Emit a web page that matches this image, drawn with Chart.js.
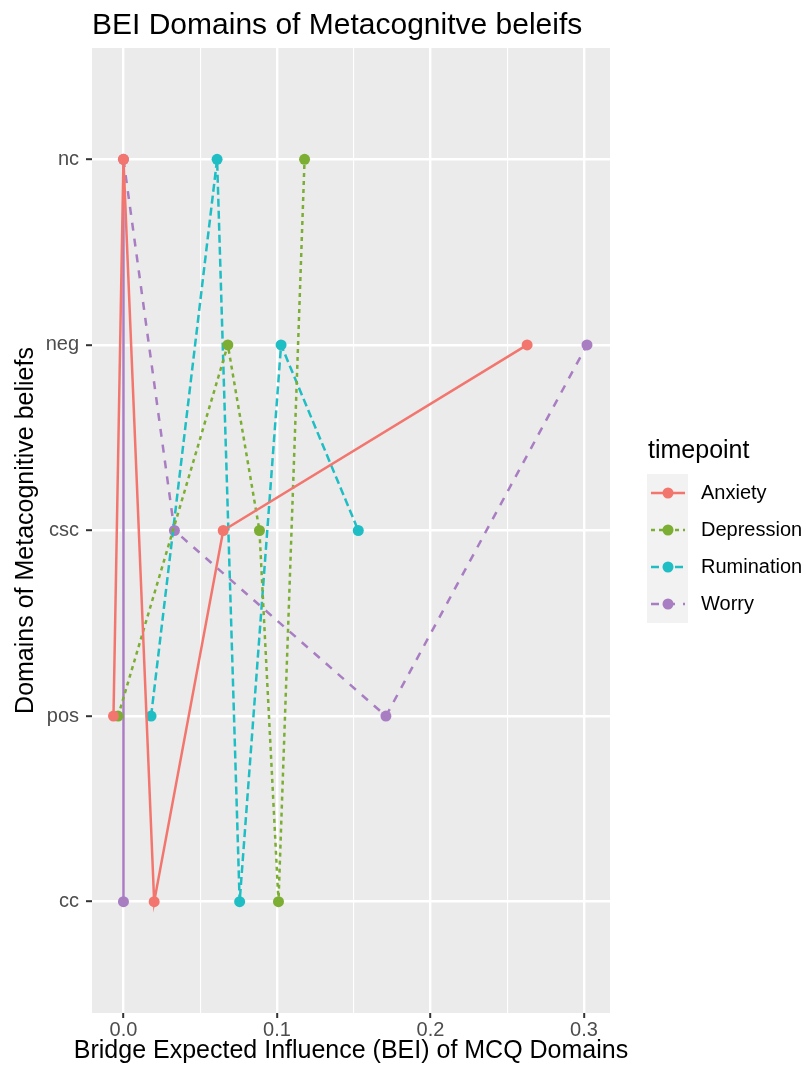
<!DOCTYPE html>
<html>
<head>
<meta charset="utf-8">
<script src="https://cdn.jsdelivr.net/npm/chart.js@4.4.0/dist/chart.umd.min.js"></script>
<style>
  html, body { margin: 0; padding: 0; background: #fff; }
</style>
</head>
<body>
<canvas id="chart" width="806" height="1071"></canvas>
<script>
// domains on the y axis, bottom to top
const domains = ["cc", "pos", "csc", "neg", "nc"];

// BEI per domain, same order as domains
const anxiety = [0.020, -0.0065, 0.065, 0.263, 0.0];
const depression = [0.101, -0.0035, 0.0886, 0.068, 0.118];
const rumination = [0.0757, 0.018, 0.153, 0.1027, 0.061];
const worry = [0.0, 0.171, 0.0332, 0.302, 0.0];

const seriesNames = ["Anxiety", "Depression", "Rumination", "Worry"];
const xTicks = [0, 0.05, 0.1, 0.15, 0.2, 0.25, 0.3];

const COLORS = ["#F3766E", "#7CAE34", "#1FBEC4", "#A87DC2"];
const DASHES = [[], [4, 4], [8, 4], [8, 8]];
const FONT = "'Liberation Sans', Arial, sans-serif";

Chart.defaults.font.family = FONT;

// geom_line style: points joined in order of x
function toPoints(values) {
    return domains
        .map((d, i) => ({ x: values[i], y: i + 1 }))
        .sort((a, b) => a.x - b.x);
}

function isMajor(v) {
    return Math.abs(v * 10 - Math.round(v * 10)) < 1e-6;
}

const allSeries = [anxiety, depression, rumination, worry];

const datasets = allSeries.map((vals, i) => ({
    label: seriesNames[i],
    data: toPoints(vals),
    borderColor: COLORS[i],
    backgroundColor: COLORS[i],
    borderWidth: 2.5,
    borderDash: DASHES[i],
    pointRadius: 5.5,
    pointBorderWidth: 0,
    pointHoverRadius: 5.5,
    tension: 0,
    // the vertical cc-nc piece of Worry reads as a solid line
    segment: i === 3 ? { borderDash: ctx => ctx.p0DataIndex === 0 ? [] : DASHES[3] } : undefined
}));

const panelBackground = {
    id: "panelBackground",
    beforeDraw(chart) {
        const { ctx, chartArea: a } = chart;
        ctx.save();
        ctx.fillStyle = "#EBEBEB";
        ctx.fillRect(a.left, a.top, a.right - a.left, a.bottom - a.top);
        ctx.restore();
    }
};

const titleAndLegend = {
    id: "titleAndLegend",
    afterDraw(chart) {
        const ctx = chart.ctx;
        const a = chart.chartArea;
        ctx.save();

        // plot title
        ctx.fillStyle = "#000";
        ctx.font = "30px " + FONT;
        ctx.textAlign = "left";
        ctx.textBaseline = "alphabetic";
        ctx.fillText("BEI Domains of Metacognitve beleifs", 92, 34);

        // x axis title (wider than the panel, so drawn here)
        ctx.font = "25px " + FONT;
        ctx.textAlign = "center";
        ctx.fillText("Bridge Expected Influence (BEI) of MCQ Domains", (a.left + a.right) / 2, 1058);

        // legend
        ctx.textAlign = "left";
        ctx.fillText("timepoint", 648, 458);

        ctx.fillStyle = "#F2F2F2";
        ctx.fillRect(647, 474, 41, 149);

        ctx.font = "20px " + FONT;
        ctx.textBaseline = "middle";
        seriesNames.forEach((name, i) => {
            const y = 493 + i * 37;
            ctx.strokeStyle = COLORS[i];
            ctx.lineWidth = 2.5;
            ctx.setLineDash(DASHES[i]);
            ctx.beginPath();
            ctx.moveTo(651, y);
            ctx.lineTo(685, y);
            ctx.stroke();
            ctx.setLineDash([]);
            ctx.fillStyle = COLORS[i];
            ctx.beginPath();
            ctx.arc(668, y, 5.5, 0, Math.PI * 2);
            ctx.fill();
            ctx.fillStyle = "#000";
            ctx.fillText(name, 701, y);
        });
        ctx.restore();
    }
};

new Chart(document.getElementById("chart"), {
    type: "line",
    data: { datasets: datasets },
    options: {
        responsive: false,
        devicePixelRatio: 1,
        animation: false,
        layout: { padding: { top: 48, right: 196, left: 0, bottom: 0 } },
        plugins: {
            legend: { display: false },
            tooltip: { enabled: false },
            title: { display: false }
        },
        scales: {
            x: {
                type: "linear",
                min: -0.0205,
                max: 0.317,
                afterBuildTicks: axis => { axis.ticks = xTicks.map(v => ({ value: v })); },
                afterFit: axis => { axis.height = 58; },
                border: { display: false },
                grid: {
                    color: "#FFFFFF",
                    lineWidth: c => isMajor(c.tick.value) ? 2.4 : 1.1,
                    tickColor: c => isMajor(c.tick.value) ? "#333333" : "rgba(0,0,0,0)",
                    tickLength: 5,
                    tickWidth: 2
                },
                ticks: {
                    color: "#4D4D4D",
                    font: { size: 20 },
                    padding: 0,
                    maxRotation: 0,
                    autoSkip: false,
                    callback: v => isMajor(v) ? v.toFixed(1) : ""
                },
                title: { display: false }
            },
            y: {
                type: "linear",
                min: 0.4,
                max: 5.6,
                afterBuildTicks: axis => { axis.ticks = domains.map((d, i) => ({ value: i + 1 })); },
                afterFit: axis => { axis.width = 92; },
                border: { display: false },
                grid: {
                    color: "#FFFFFF",
                    lineWidth: 2.4,
                    tickColor: "#333333",
                    tickLength: 6,
                    tickWidth: 2
                },
                ticks: {
                    color: "#4D4D4D",
                    font: { size: 20 },
                    padding: 7,
                    callback: v => domains[Math.round(v) - 1]
                },
                title: {
                    display: true,
                    text: "Domains of Metacognitive beliefs",
                    color: "#000",
                    font: { size: 25 },
                    padding: { top: 11, bottom: 0 }
                }
            }
        }
    },
    plugins: [panelBackground, titleAndLegend]
});
</script>
</body>
</html>
